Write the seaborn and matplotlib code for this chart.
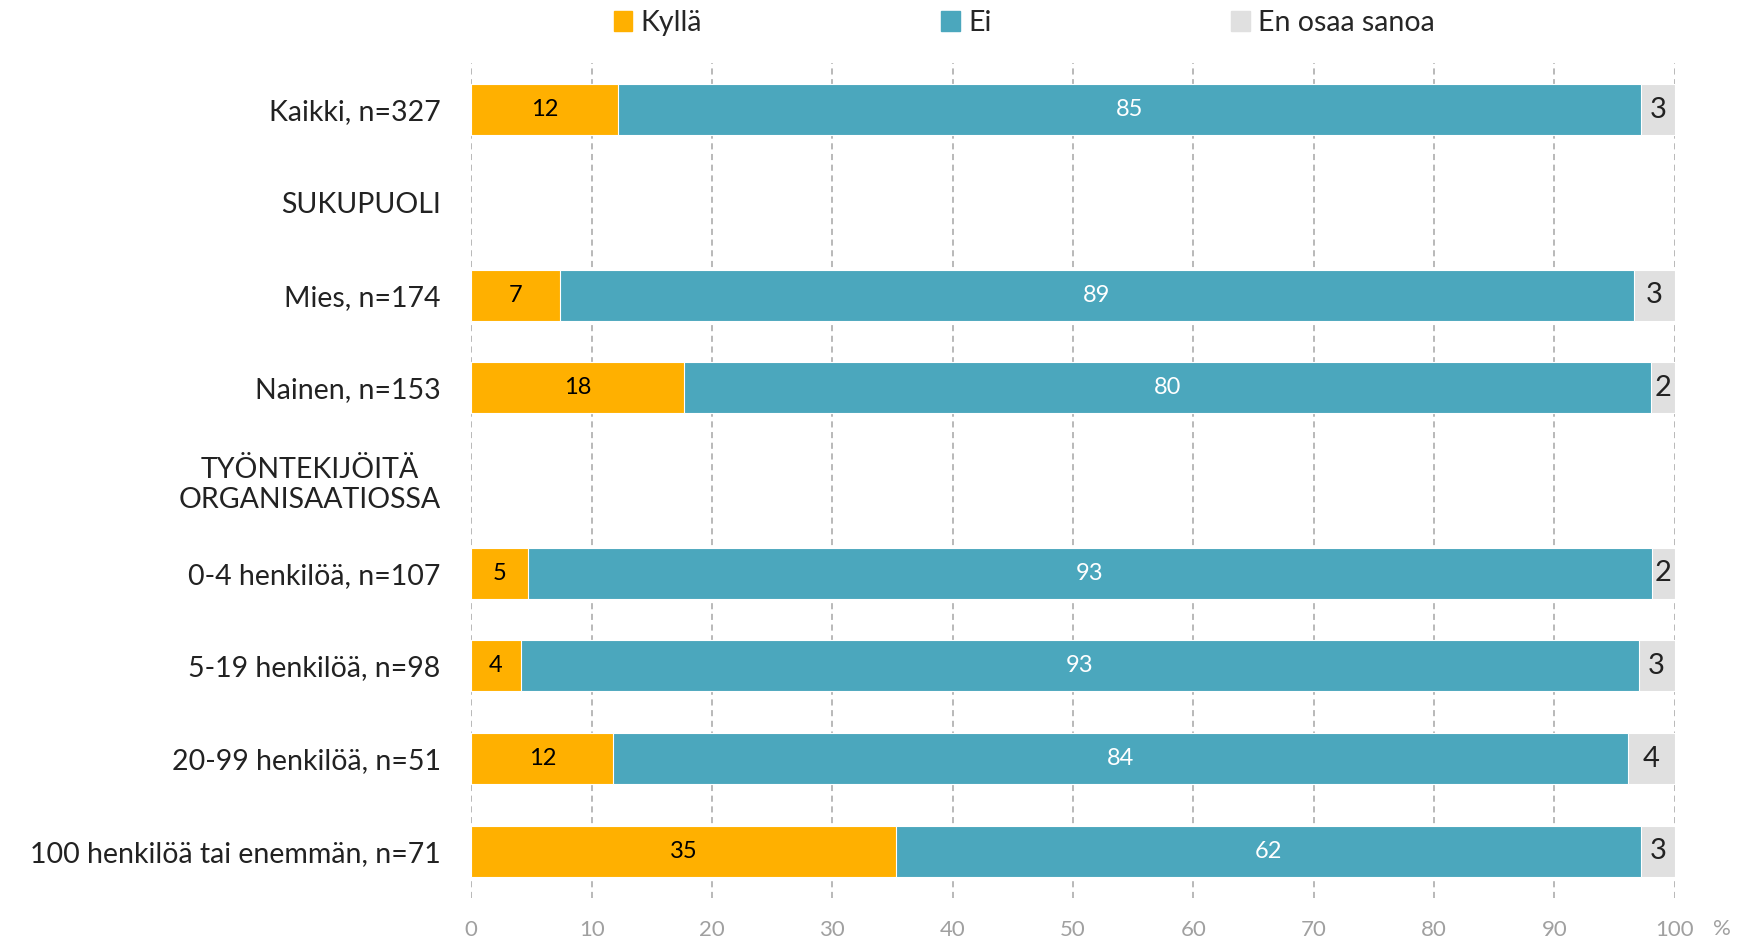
import numpy as np
import pandas as pd
import matplotlib
matplotlib.use("Agg")
import matplotlib.pyplot as plt
import seaborn as sns
from matplotlib.patches import Patch

# Data (percent)
categories = ["Kaikki, n=327", "SUKUPUOLI", "Mies, n=174", "Nainen, n=153",
              "TYÖNTEKIJÖITÄ\nORGANISAATIOSSA", "0-4 henkilöä, n=107",
              "5-19 henkilöä, n=98", "20-99 henkilöä, n=51",
              "100 henkilöä tai enemmän, n=71"]
kylla = [12.2, np.nan, 7.4, 17.7, np.nan, 4.7, 4.1, 11.8, 35.3]
ei = [85.0, np.nan, 89.2, 80.3, np.nan, 93.4, 92.9, 84.3, 61.9]
eos = [2.8, np.nan, 3.4, 2.0, np.nan, 1.9, 3.0, 3.9, 2.8]
series = ["Kyllä", "Ei", "En osaa sanoa"]
xticks = list(range(0, 101, 10))

c_yellow = "#FFB000"
c_teal = "#4BA7BD"
c_grey = "#E0E0E0"

sns.set_style("white")
plt.rcParams["font.family"] = ["Lato", "DejaVu Sans"]

df = pd.DataFrame({"cat": categories, "kylla": kylla, "ei": ei, "eos": eos})
df["c1"] = df["kylla"]
df["c2"] = df["kylla"] + df["ei"]
df["c3"] = df["kylla"] + df["ei"] + df["eos"]

fig = plt.figure(figsize=(17.39, 9.44), dpi=100)
ax = fig.add_axes([0.271, 0.049, 0.692, 0.884])

# stacked bars drawn back to front
for col, colr in [("c3", c_grey), ("c2", c_teal), ("c1", c_yellow)]:
    sns.barplot(data=df, x=col, y="cat", order=categories, color=colr,
                saturation=1, width=0.55, errorbar=None, ax=ax,
                edgecolor="white", linewidth=0.8)

# value labels
for i, row in df.iterrows():
    if np.isnan(row["kylla"]):
        continue
    ax.text(row["kylla"] / 2, i, f"{round(row['kylla'])}", ha="center", va="center",
            fontsize=17, color="black")
    ax.text(row["kylla"] + row["ei"] / 2, i, f"{round(row['ei'])}", ha="center",
            va="center", fontsize=17, color="white")
    ax.text(row["c2"] + row["eos"] / 2, i, f"{round(row['eos'])}", ha="center",
            va="center", fontsize=21, color="#222222")

ax.set_xlim(0, 100)
ax.set_ylim(8.5, -0.5)
ax.set_xticks(xticks)
ax.set_xlabel("")
ax.set_ylabel("")
ax.xaxis.grid(True, linestyle=(0, (4, 3)), color="#A6A6A6", linewidth=1.1)
ax.set_axisbelow(True)
sns.despine(ax=ax, left=True, bottom=True)
ax.tick_params(axis="x", length=0, pad=16, labelsize=16, labelcolor="#A0A0A0")
ax.tick_params(axis="y", length=0, pad=22, labelsize=20.5, labelcolor="#222222")
for lbl in ax.get_yticklabels():
    if "\n" in lbl.get_text():
        lbl.set_multialignment("center")

fig.text(1722 / 1739, 1 - 929 / 944, "%", ha="center", va="center",
         fontsize=16, color="#A0A0A0")

handles = [Patch(color=c) for c in (c_yellow, c_teal, c_grey)]
fig.legend(handles, series, loc="center", bbox_to_anchor=(0.589, 1 - 23 / 944),
           ncol=3, frameon=False, fontsize=20.5, handlelength=0.65, handleheight=0.65,
           handletextpad=0.3, columnspacing=8.4)

fig.savefig("out.png", dpi=100)
